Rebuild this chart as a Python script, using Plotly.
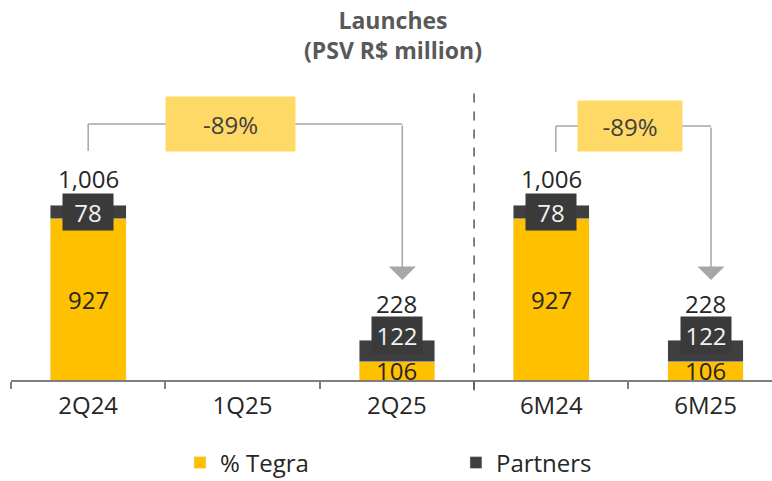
import plotly.graph_objects as go

# ---- data ----
categories = ["2Q24", "1Q25", "2Q25", "6M24", "6M25"]
tegra = [927, None, 106, 927, 106]
partners = [78, None, 122, 78, 122]
totals = [1006, None, 228, 1006, 228]
variation_labels = ["-89%", "-89%"]
series_names = ["% Tegra", "Partners"]

# ---- style ----
YELLOW = "#FFC000"
DARK = "#3F3F3F"
LINE = "#A6A6A6"
FONT = "Open Sans"
YMAX = 1724
PLOT_TOP, PLOT_H = 80, 300


def yv(py):
    """pixel row -> data value (layout helper)"""
    return (PLOT_TOP + PLOT_H - py) * YMAX / PLOT_H


fig = go.Figure()
fig.add_trace(go.Bar(x=categories, y=tegra, name=series_names[0], marker_color=YELLOW,
                     width=0.49, hoverinfo="skip"))
fig.add_trace(go.Bar(x=categories, y=partners, name=series_names[1], marker_color=DARK,
                     width=0.49, hoverinfo="skip"))

ann = []
box_shift = {0: 0, 2: 16, 3: 0, 4: 16}
total_shift = {0: 8, 2: 18, 3: 8, 4: 18}
for i, c in enumerate(categories):
    if tegra[i] is None:
        continue
    ann.append(dict(x=c, y=tegra[i] / 2, text=str(tegra[i]), showarrow=False,
                    font=dict(family=FONT, size=24, color="#262626")))
    ann.append(dict(x=c, y=tegra[i] + partners[i] / 2, yshift=box_shift[i], text=str(partners[i]),
                    showarrow=False, bgcolor="#3A3A3A", width=50, height=36, borderpad=0,
                    font=dict(family=FONT, size=24, color="#F2F2F2")))
    ann.append(dict(x=c, y=totals[i], yanchor="bottom", yshift=total_shift[i], text=f"{totals[i]:,}",
                    showarrow=False, font=dict(family=FONT, size=24, color="#262626")))

shapes = []
# callouts: (start idx, end idx, box center x, box width, box height, level px, start px)
callouts = [(0, 2, 0.92, 129, 54, 124, 151), (3, 4, 3.51, 104, 50, 126, 152)]
for k, (a, b, bx, bw, bh, lvl_px, start_px) in enumerate(callouts):
    lvl = yv(lvl_px)
    x_end = b + 0.035
    x_start = a + (0.03 if k == 1 else 0)
    shapes.append(dict(type="line", xref="x", yref="y", x0=x_start, x1=x_start,
                       y0=yv(start_px), y1=lvl, line=dict(color=LINE, width=1.5)))
    shapes.append(dict(type="line", xref="x", yref="y", x0=x_start, x1=x_end,
                       y0=lvl, y1=lvl, line=dict(color=LINE, width=1.5), layer="below"))
    ann.append(dict(x=x_end, y=yv(280), ax=x_end, ay=lvl, axref="x", ayref="y", xref="x", yref="y",
                    text="", showarrow=True, arrowhead=1, arrowsize=3, arrowwidth=1.5,
                    arrowcolor=LINE))
    ann.append(dict(x=bx, y=lvl, xref="x", yref="y", text=variation_labels[k], showarrow=False,
                    bgcolor="#FFD966", width=bw, height=bh, borderpad=0,
                    font=dict(family=FONT, size=24, color="#404040")))

# dashed separator between quarters and semesters
shapes.append(dict(type="line", xref="x", yref="paper", x0=2.5, x1=2.5, y0=-0.035, y1=0.985,
                   line=dict(color="#595959", width=1.5, dash="dash")))

fig.update_layout(
    barmode="stack",
    width=772, height=481,
    margin=dict(l=11, r=0, t=PLOT_TOP, b=481 - PLOT_TOP - PLOT_H, autoexpand=False),
    paper_bgcolor="white", plot_bgcolor="white",
    title=dict(text="<b>Launches<br>(PSV R$ million)</b>", x=0.502, xref="paper", xanchor="center",
               y=1 - 29 / 481, yref="container", yanchor="middle",
               font=dict(family=FONT, size=23, color="#595959")),
    xaxis=dict(range=[-0.5, 4.43], showline=True, linecolor="#7F7F7F", linewidth=2,
               ticks="outside", tickson="boundaries", ticklen=7, tickcolor="#7F7F7F", tickwidth=1.5,
               ticklabelstandoff=3,
               tickfont=dict(family=FONT, size=24, color="#262626"), showgrid=False, fixedrange=True),
    yaxis=dict(range=[0, YMAX], visible=False, showgrid=False, zeroline=False),
    legend=dict(orientation="h", x=0.222, xanchor="left", y=(PLOT_TOP + PLOT_H - 463) / PLOT_H,
                yanchor="middle", entrywidth=231, entrywidthmode="pixels",
                font=dict(family=FONT, size=24, color="#262626"), traceorder="normal"),
    annotations=ann,
    shapes=shapes,
    showlegend=True,
)
fig.write_html("out.html", config={"displayModeBar": False},
               post_script="document.body.style.margin='0';document.body.style.overflow='hidden';")
